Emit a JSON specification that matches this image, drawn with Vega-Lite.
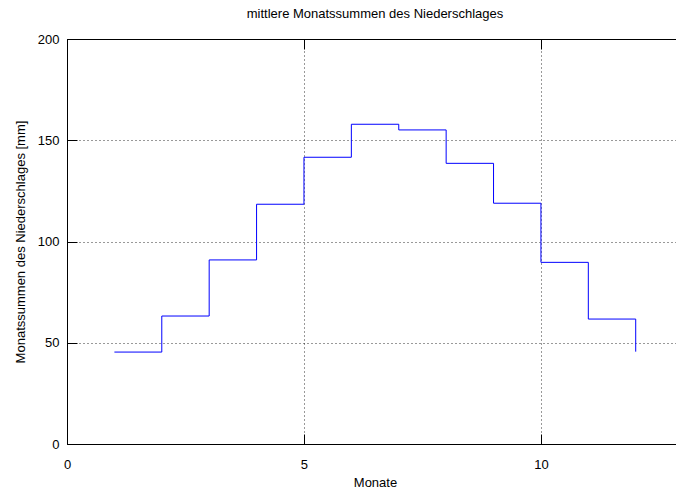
{
  "$schema": "https://vega.github.io/schema/vega-lite/v6.json",
  "autosize": "none",
  "width": 609,
  "height": 405,
  "padding": {"left": 67, "top": 39, "right": 0, "bottom": 48},
  "background": "white",
  "config": {
    "font": "Liberation Sans",
    "view": {"stroke": null},
    "axis": {
      "labelFont": "Liberation Sans",
      "titleFont": "Liberation Sans",
      "labelFontSize": 13,
      "titleFontSize": 13,
      "titleFontWeight": "normal",
      "labelColor": "#000",
      "titleColor": "#000",
      "domainColor": "#000",
      "tickColor": "#000",
      "gridColor": "#000",
      "gridDash": [1, 3],
      "gridOpacity": 0.8
    }
  },
  "title": {
    "text": "mittlere Monatssummen des Niederschlages",
    "font": "Liberation Sans",
    "fontSize": 13,
    "fontWeight": "normal",
    "color": "#000",
    "anchor": "middle",
    "dx": 3.5,
    "offset": 12
  },
  "data": {
    "values": [
      {"monat": 1, "n": 45.4},
      {"monat": 2, "n": 63.2},
      {"monat": 3, "n": 90.9},
      {"monat": 4, "n": 118.4},
      {"monat": 5, "n": 141.6},
      {"monat": 6, "n": 157.9},
      {"monat": 7, "n": 155.1},
      {"monat": 8, "n": 138.6},
      {"monat": 9, "n": 118.9},
      {"monat": 10, "n": 89.7},
      {"monat": 11, "n": 61.7},
      {"monat": 12, "n": 45.6}
    ]
  },
  "layer": [
    {
      "mark": {"type": "line", "interpolate": "step-after", "color": "#0000ff", "strokeWidth": 1, "clip": true},
      "encoding": {
        "x": {
          "field": "monat", "type": "quantitative",
          "scale": {"domain": [0, 12.85], "nice": false, "zero": false},
          "axis": {
            "orient": "bottom", "values": [0, 5, 10], "title": "Monate",
            "grid": true, "tickSize": -10, "labelPadding": 24, "titlePadding": 5,
            "titleX": 308, "domainWidth": 1, "labelFlush": false
          }
        },
        "y": {
          "field": "n", "type": "quantitative",
          "scale": {"domain": [0, 200], "nice": false},
          "axis": {
            "orient": "left", "values": [0, 50, 100, 150, 200],
            "title": "Monatssummen des Niederschlages [mm]",
            "grid": true, "tickSize": -10, "labelPadding": 18, "titlePadding": 10,
            "labelFlush": false
          }
        }
      }
    },
    {
      "mark": {"type": "point", "opacity": 0},
      "encoding": {
        "x": {
          "field": "monat", "type": "quantitative",
          "axis": {
            "orient": "top", "values": [0, 5, 10], "title": null,
            "labels": false, "grid": false, "tickSize": -10
          }
        },
        "y": {"field": "n", "type": "quantitative"}
      }
    }
  ],
  "resolve": {"axis": {"x": "independent"}}
}
